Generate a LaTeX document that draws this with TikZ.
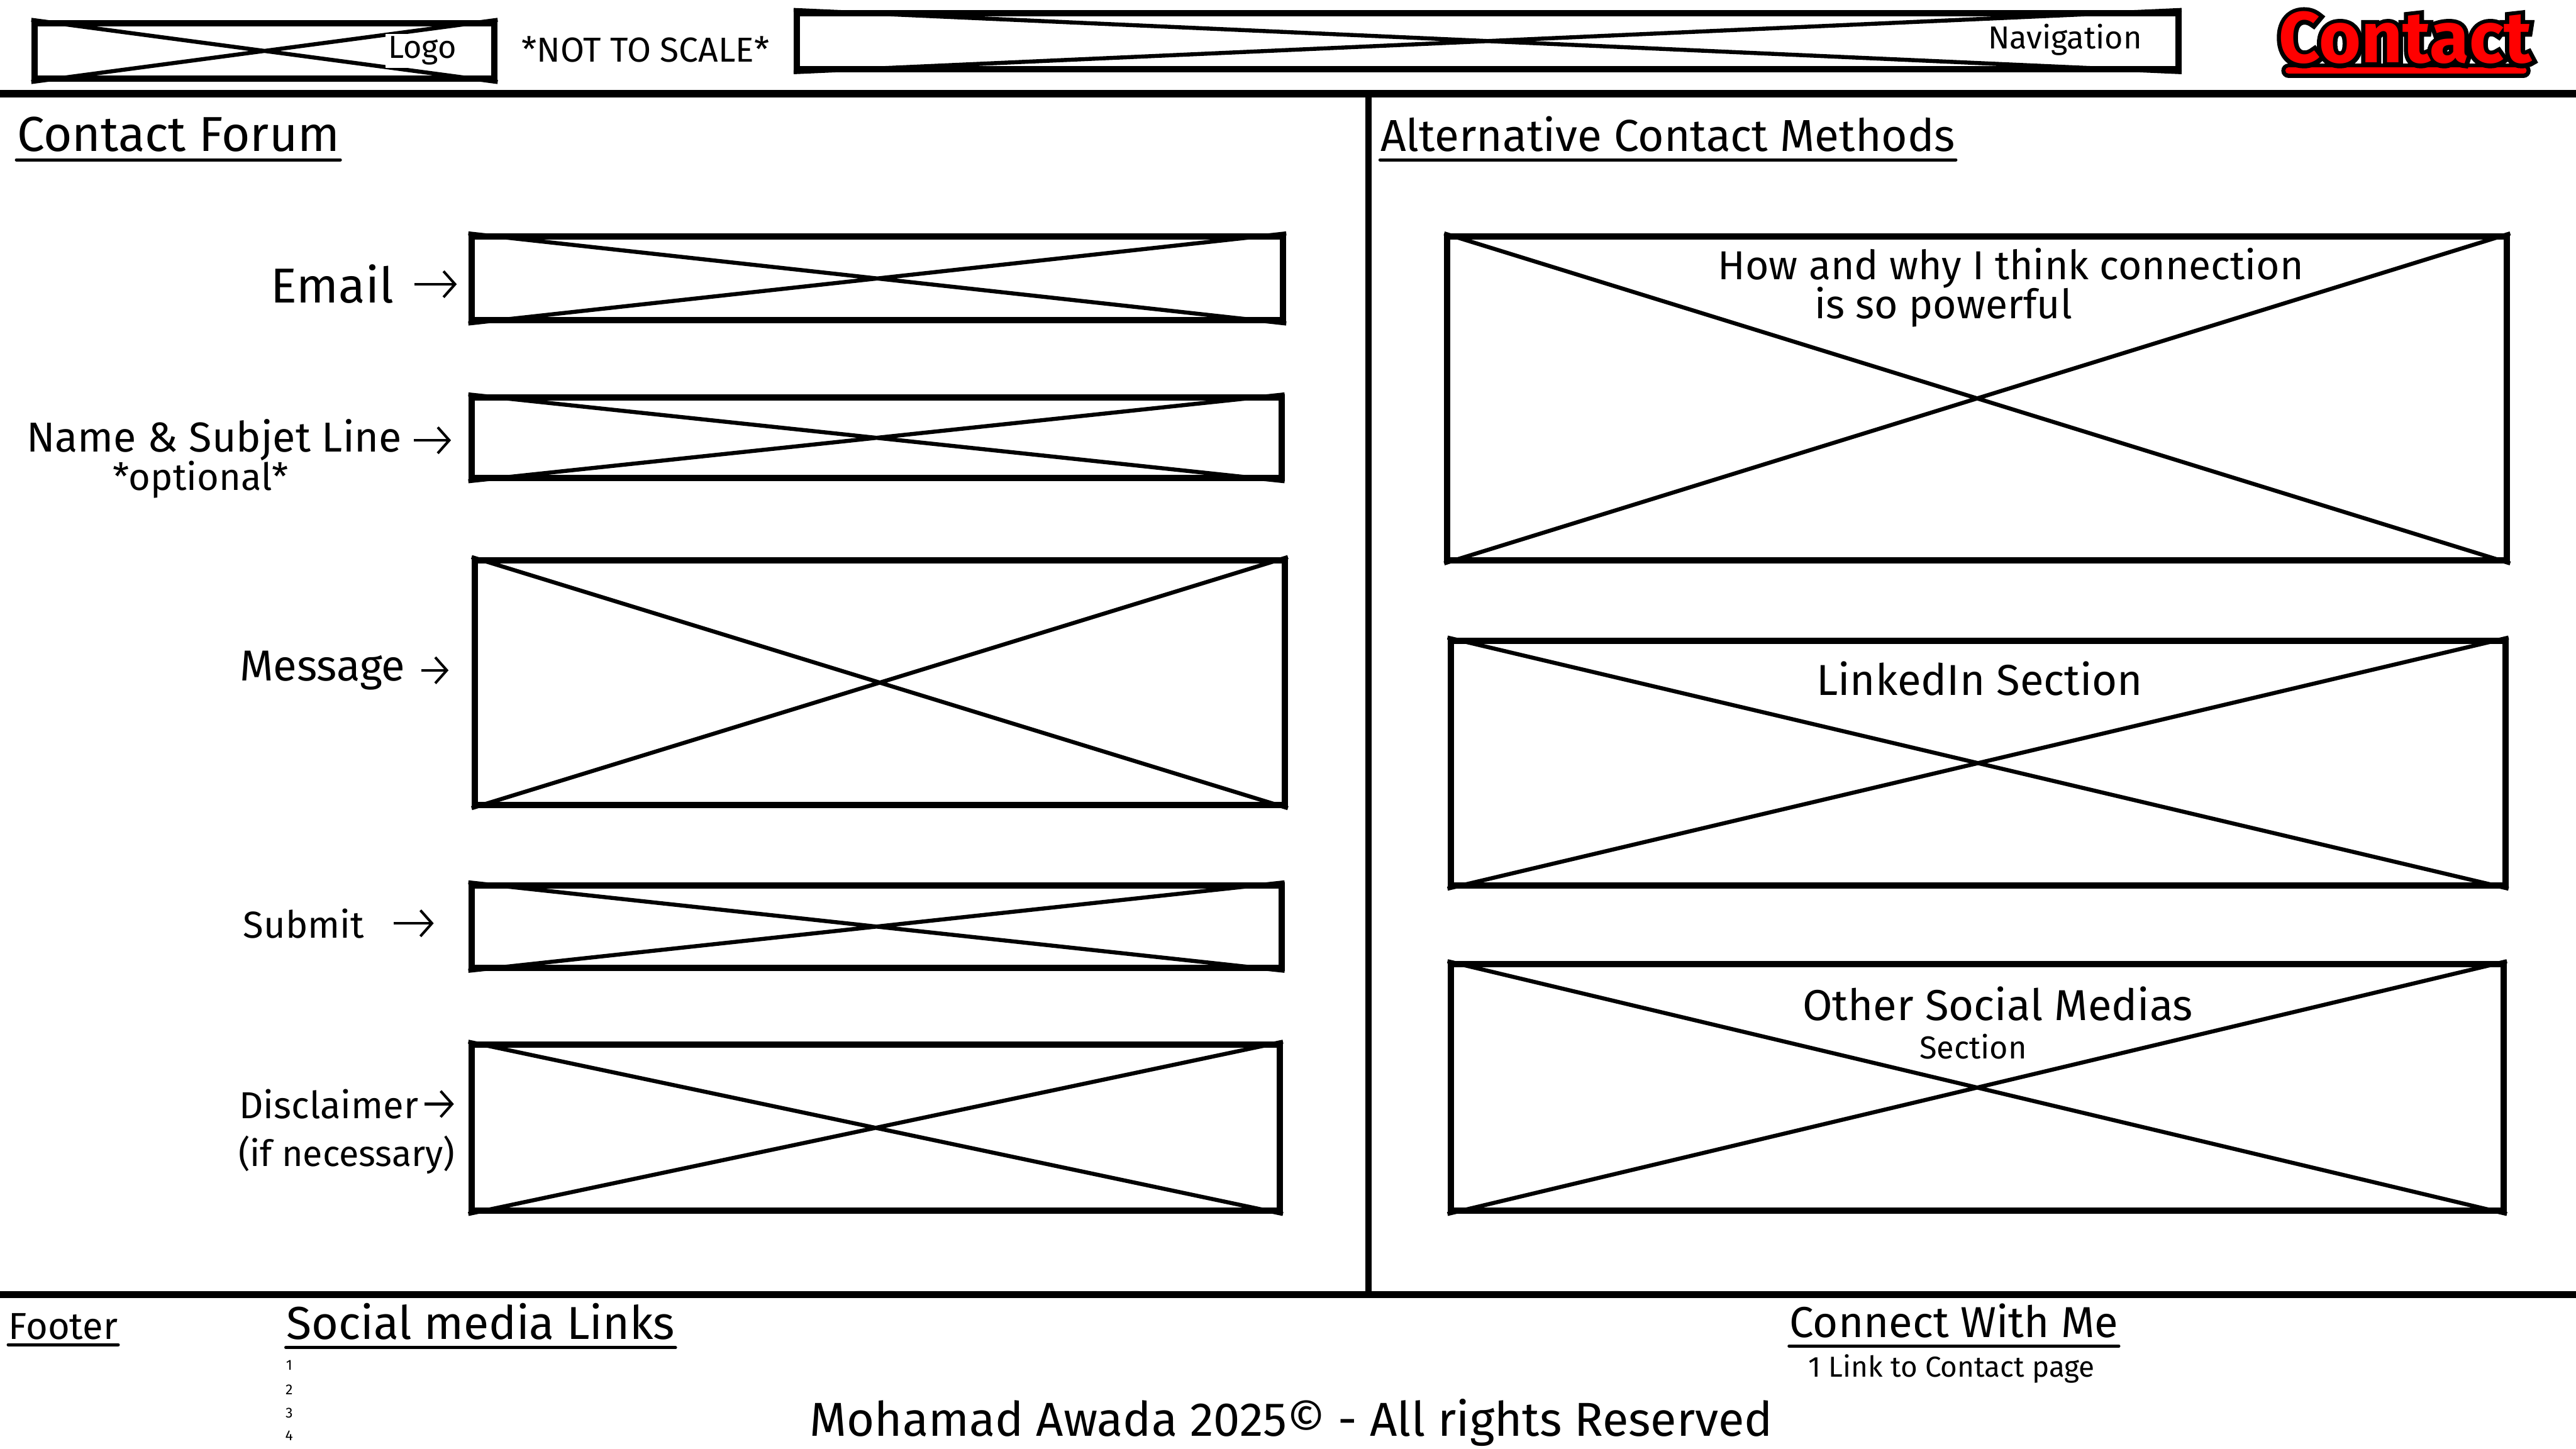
\documentclass[tikz,border=0pt]{standalone}
\usepackage{fontspec}
\setmainfont{Fira Sans}
\newfontfamily\outlinefont{Fira Sans}[BoldFeatures={FakeBold=12}]
\usetikzlibrary{arrows.meta,fit}

\begin{document}
\begin{tikzpicture}[x=0.02cm,y=-0.02cm,
  xbox/.style={draw,line width=2.2pt,inner sep=0pt},
  cross/.style={line width=1.4pt},
  rule/.style={line width=2.5pt},
  uline/.style={line width=1.1pt,line cap=round},
  lbl/.style={inner sep=0pt,font=\fontsize{15}{17}\selectfont},
  small/.style={inner sep=0pt,font=\fontsize{11}{13}\selectfont},
  head/.style={inner sep=0pt,anchor=base west,font=\fontsize{17}{20}\selectfont},
  arr/.style={-{Straight Barb[length=4pt,width=9pt]},line width=0.9pt}]
\useasboundingbox (0,0) rectangle (1568,882);
\fill[white] (0,0) rectangle (1568,882);

\node[xbox,fit={(21,14) (301,48)}] (logo) {};
\node[xbox,fit={(485,8) (1326,42)}] (nav) {};
\draw[cross] (logo.north west) -- (logo.south east) (logo.south west) -- (logo.north east);
\draw[cross] (nav.north west) -- (nav.south east) (nav.south west) -- (nav.north east);
\node[small,fill=white,inner sep=1pt] (logotxt) at (257,31) {Logo};
\node[small,font=\fontsize{12}{14}\selectfont] (nts) at (393,30) {*NOT TO SCALE*};
\node[small,fill=white,inner sep=1pt] (navtxt) at (1257,24) {Navigation};
\draw[line width=5pt,line cap=round] (1393,43) -- (1536,43);
\draw[red,line width=2.2pt,line cap=round] (1393,43) -- (1536,43);
\node[inner sep=1pt,text=black,font=\fontsize{25}{28}\selectfont\outlinefont\bfseries] (titlebg) at (1464,23) {Contact};
\node[inner sep=1pt,text=red,font=\fontsize{25}{28}\selectfont\bfseries] (title) at (titlebg) {Contact};

\draw[rule] (0,57) -- (1568,57);
\draw[rule] (0,788) -- (1568,788);
\draw[line width=2pt] (833,57) -- (833,788);

\node[head] (cf) at (10,92) {Contact Forum};
\draw[uline] ([yshift=-3pt]cf.base west) -- ([yshift=-3pt]cf.base east);
\node[head,font=\fontsize{15.5}{18}\selectfont] (acm) at (840,92) {Alternative Contact Methods};
\draw[uline] ([yshift=-3pt]acm.base west) -- ([yshift=-3pt]acm.base east);

\node[xbox,fit={(287,144) (781,195)}] (email) {};
\node[xbox,fit={(287,242) (780,291)}] (name) {};
\node[xbox,fit={(289,341) (782,490)}] (msg) {};
\node[xbox,fit={(287,539) (780,589)}] (submit) {};
\node[xbox,fit={(287,636) (779,737)}] (disc) {};
\draw[cross] (email.north west) -- (email.south east) (email.south west) -- (email.north east);
\draw[cross] (name.north west) -- (name.south east) (name.south west) -- (name.north east);
\draw[cross] (msg.north west) -- (msg.south east) (msg.south west) -- (msg.north east);
\draw[cross] (submit.north west) -- (submit.south east) (submit.south west) -- (submit.north east);
\draw[cross] (disc.north west) -- (disc.south east) (disc.south west) -- (disc.north east);

\node[lbl,anchor=east,font=\fontsize{17}{20}\selectfont] (lemail) at (240,173) {Email};
\node[lbl,anchor=east,font=\fontsize{14.5}{17}\selectfont] (lname) at (245,268) {Name \& Subjet Line};
\node[small,font=\fontsize{13}{15}\selectfont] (lopt) at (122,292) {*optional*};
\node[lbl,anchor=east] (lmsg) at (247,408) {Message};
\node[lbl,anchor=east,font=\fontsize{13}{15}\selectfont] (lsubmit) at (222,562) {Submit};
\node[lbl,anchor=east,font=\fontsize{13}{15}\selectfont] (ldisc) at (255,672) {Disclaimer};
\node[lbl,font=\fontsize{12.5}{15}\selectfont] (lnec) at (211,703) {(if necessary)};
\draw[arr,shorten <=7pt,shorten >=4pt] (lemail.east) -- (email.west |- lemail.east);
\draw[arr,shorten <=4pt,shorten >=6pt] (lname.east) -- (name.west |- lname.east);
\draw[arr,shorten <=5.5pt,shorten >=8pt] (lmsg.east) -- (msg.west |- lmsg.east);
\draw[arr,shorten <=10pt,shorten >=12pt] (lsubmit.east) -- (submit.west |- lsubmit.east);
\draw[arr,shorten <=2pt,shorten >=5pt] (ldisc.east) -- (disc.west |- ldisc.east);

\node[xbox,fit={(881,144) (1526,341)}] (conn) {};
\node[xbox,fit={(883,390) (1525,539)}] (linkedin) {};
\node[xbox,fit={(883,587) (1524,737)}] (social) {};
\draw[cross] (conn.north west) -- (conn.south east) (conn.south west) -- (conn.north east);
\draw[cross] (linkedin.north west) -- (linkedin.south east) (linkedin.south west) -- (linkedin.north east);
\draw[cross] (social.north west) -- (social.south east) (social.south west) -- (social.north east);
\node[lbl,font=\fontsize{14}{16}\selectfont] (tconn) at (1224,163) {How and why I think connection};
\node[lbl,font=\fontsize{14}{16}\selectfont] (tpow) at (1183,187) {is so powerful};
\node[lbl] (tlink) at (1205,413) {LinkedIn Section};
\node[lbl] (tsoc) at (1216,611) {Other Social Medias};
\node[small] (tsec) at (1201,637) {Section};

\node[head,font=\fontsize{13}{15}\selectfont] (foot) at (5,815) {Footer};
\draw[uline] ([yshift=-2pt]foot.base west) -- ([yshift=-2pt]foot.base east);
\node[head,font=\fontsize{16}{18}\selectfont] (sml) at (174,815) {Social media Links};
\draw[uline] ([yshift=-3pt]sml.base west) -- ([yshift=-3pt]sml.base east);
\node[inner sep=0pt,font=\fontsize{5}{6}\selectfont] (n1) at (176,831) {1};
\node[inner sep=0pt,font=\fontsize{5}{6}\selectfont] (n2) at (176,846) {2};
\node[inner sep=0pt,font=\fontsize{5}{6}\selectfont] (n3) at (176,860) {3};
\node[inner sep=0pt,font=\fontsize{5}{6}\selectfont] (n4) at (176,874) {4};
\node[head,font=\fontsize{15}{17}\selectfont] (cwm) at (1089,814) {Connect With Me};
\draw[uline] ([yshift=-3pt]cwm.base west) -- ([yshift=-3pt]cwm.base east);
\node[small,font=\fontsize{10}{12}\selectfont] (link) at (1188,833) {1 Link to Contact page};
\node[lbl,font=\fontsize{16.5}{19}\selectfont] (copy) at (786,866) {Mohamad Awada 2025© - All rights Reserved};
\end{tikzpicture}
\end{document}
